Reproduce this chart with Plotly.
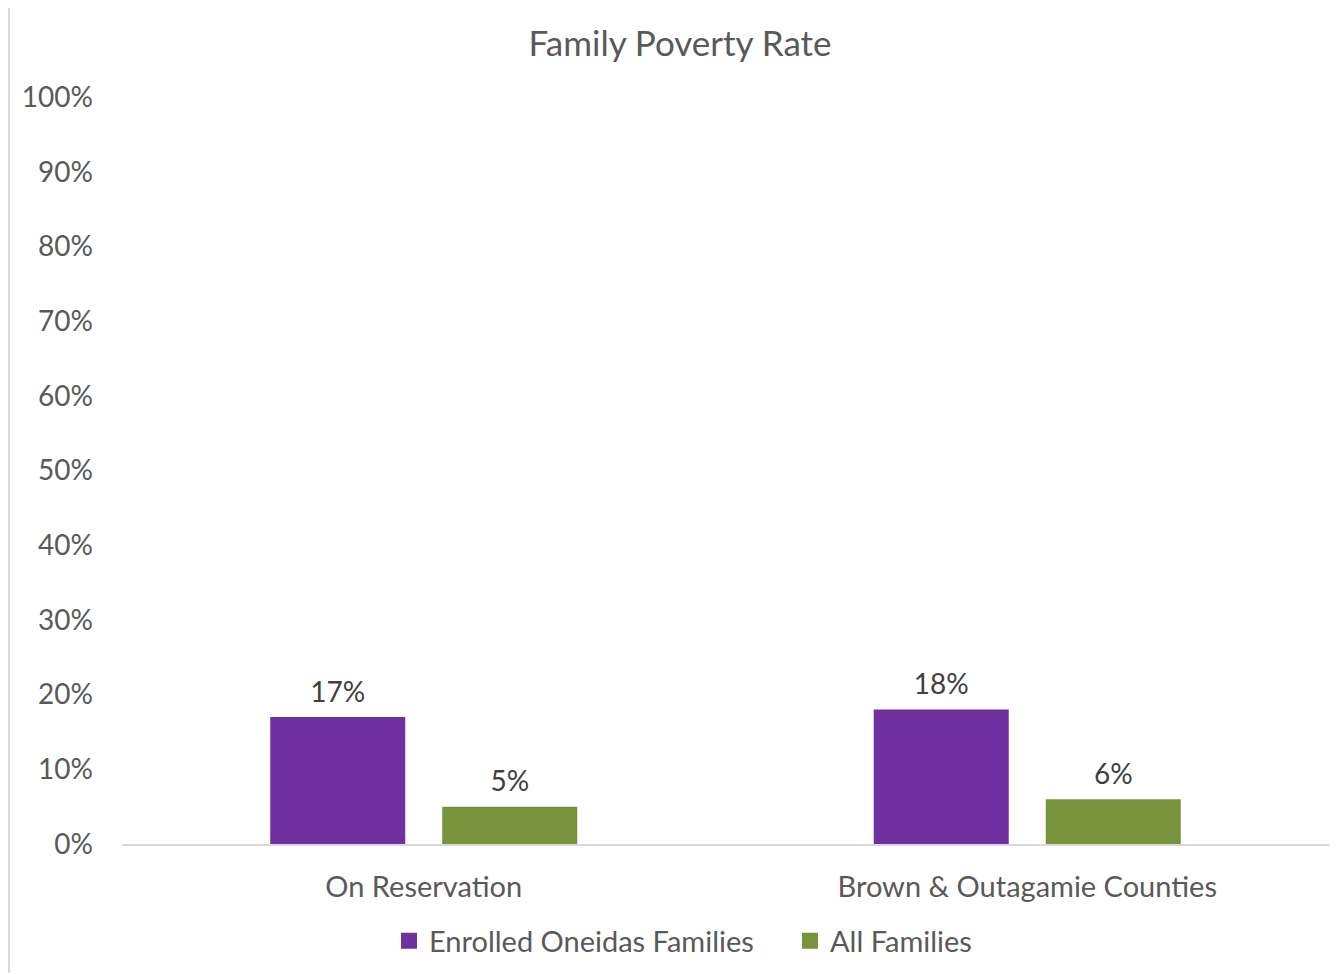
import plotly.graph_objects as go

categories = ["On Reservation", "Brown & Outagamie Counties"]
enrolled = [0.17, 0.18]
all_families = [0.05, 0.06]
series_names = ["Enrolled Oneidas Families", "All Families"]
colors = ["#7030A0", "#77933C"]
y_ticks = [i / 10 for i in range(11)]

OFF = 8  # page body offset
W, H = 1330, 966
L, T = 122 - OFF, 97 - OFF
R = W - (1329 - OFF)
B = H - (845 - OFF)
pw, ph = W - L - R, H - T - B


def px_x(x):
    return (x - OFF - L) / pw


def px_y(y):
    return (H - B - (y - OFF)) / ph


fig = go.Figure()
for name, vals, col in zip(series_names, [enrolled, all_families], colors):
    fig.add_trace(go.Bar(
        x=categories, y=vals, name=name, marker_color=col,
        marker_line_width=0, showlegend=False,
    ))
for name, vals in zip(series_names, [enrolled, all_families]):
    fig.add_trace(go.Scatter(
        x=categories, y=vals, mode="markers+text", showlegend=False,
        marker=dict(size=12, color="rgba(0,0,0,0)"),
        text=[f"{v:.0%}" for v in vals], textposition="top center",
        textfont=dict(size=28, color="#404040"), cliponaxis=False,
        hoverinfo="skip",
    ))
# legend-only traces on a hidden overlay axis
for name, col in zip(series_names, colors):
    fig.add_trace(go.Scatter(
        x=[None], y=[None], mode="markers", name=name,
        marker=dict(symbol="square", size=17, color=col),
        xaxis="x2", yaxis="y2",
    ))

fig.update_layout(
    width=W, height=H,
    margin=dict(l=L, r=R, t=T, b=B),
    paper_bgcolor="white", plot_bgcolor="white",
    font=dict(family="Lato, 'Open Sans', sans-serif", color="#595959"),
    title=dict(text="Family Poverty Rate", x=(680 - OFF) / W, xanchor="center",
               xref="container",
               y=1 - (44 - OFF) / H, yanchor="middle", yref="container",
               font=dict(size=35, color="#595959")),
    barmode="group", bargap=0.43, bargroupgap=0.215,
    scattermode="group", scattergap=0.43,
    showlegend=True,
    legend=dict(orientation="h", x=px_x(389), xanchor="left",
                y=px_y(941), yanchor="middle",
                font=dict(size=29, color="#595959"),
                itemsizing="trace", traceorder="normal",
                entrywidth=356),
    xaxis=dict(showline=True, linecolor="#d9d9d9", linewidth=2,
               showgrid=False, ticks="", tickfont=dict(size=29, color="#595959"),
               ticklabelstandoff=16),
    yaxis=dict(range=[0, 1], tickvals=y_ticks, tickformat=".0%",
               showgrid=False, zeroline=False, showline=False, ticks="",
               tickfont=dict(size=28, color="#595959"), ticklabelstandoff=28),
    xaxis2=dict(overlaying="x", visible=False, range=[0, 1]),
    yaxis2=dict(overlaying="y", visible=False, range=[0, 1]),
)

fig.add_shape(type="line", xref="paper", yref="paper",
              x0=px_x(9), x1=px_x(9), y0=px_y(974), y1=px_y(5),
              line=dict(color="#d9d9d9", width=2))
fig.add_shape(type="line", xref="paper", yref="paper",
              x0=px_x(9), x1=px_x(1338), y0=px_y(5), y1=px_y(5),
              line=dict(color="#d9d9d9", width=2))

fig.write_html("out.html")
